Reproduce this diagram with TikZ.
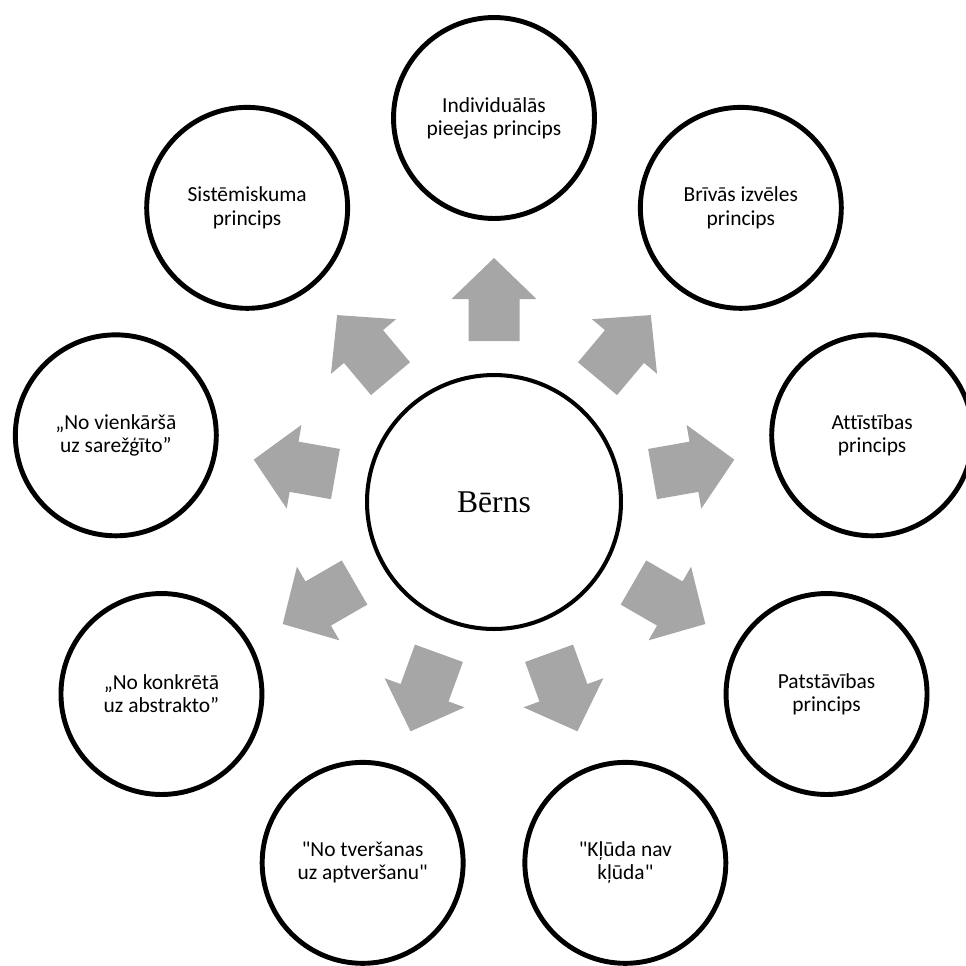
\documentclass[tikz,border=0pt]{standalone}
\usepackage{fontspec}
\setmainfont{Carlito}[Ligatures={TeXOff,NoCommon}]
\newfontfamily\bernsfont{Liberation Serif}
\usepackage{tikz}
\usetikzlibrary{positioning}

\definecolor{arrowgray}{HTML}{A6A6A6}

\begin{document}
\begin{tikzpicture}[x=0.02cm,y=0.02cm,
  principle/.style={circle,draw=black,line width=2.8pt,minimum size=4.02cm,inner sep=0pt,align=center,font=\fontsize{12.2}{13.2}\selectfont},
  outarrow/.style={fill=arrowgray,draw=none}]
\useasboundingbox (-494,-463) rectangle (472,502);

\node[circle,draw=black,line width=2.3pt,minimum size=5.08cm,font=\bernsfont\fontsize{18}{22}\selectfont] (berns) at (0,0) {Bērns};

% gray arrows between the child and the principles
\foreach \ang in {90,50,10,-30,-70,-110,-150,-190,-230}
  \fill[outarrow,rotate=\ang] (161,-25.5) -- (203,-25.5) -- (203,-42.5) -- (244,0) -- (203,42.5) -- (203,25.5) -- (161,25.5) -- cycle;

\node[principle] (indiv) at (90:384) {Individuālās\\pieejas princips};
\node[principle] (briva) at (50:384) {Brīvās izvēles\\princips};
\node[principle] (attist) at (10:384) {Attīstības\\princips};
\node[principle] (patst) at (-30:384) {Patstāvības\\princips};
\node[principle] (kluda) at (-70:384) {"Kļūda nav\\kļūda"};
\node[principle] (tversana) at (-110:384) {"No tveršanas\\uz aptveršanu"};
\node[principle] (konkr) at (-150:384) {„No konkrētā\\uz abstrakto”};
\node[principle] (vienk) at (170:384) {„No vienkāršā\\uz sarežģīto”};
\node[principle] (sistem) at (130:384) {Sistēmiskuma\\princips};
\end{tikzpicture}
\end{document}
